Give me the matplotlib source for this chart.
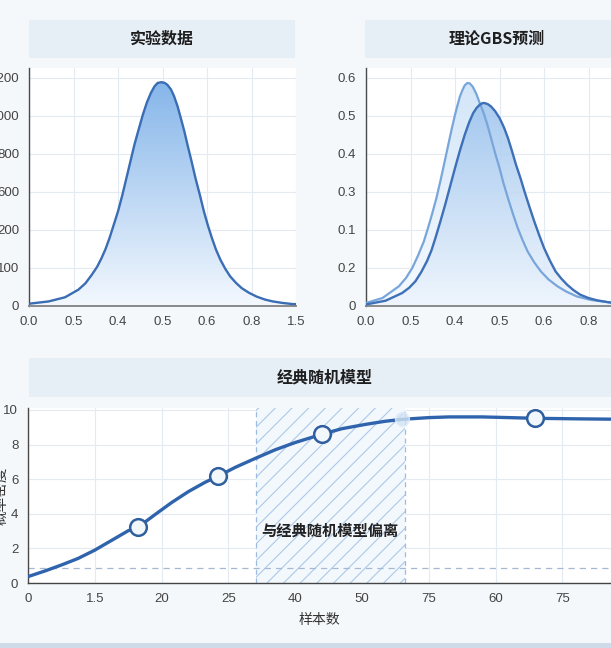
import matplotlib.pyplot as plt
import numpy as np
from matplotlib.patches import Polygon, Rectangle
from matplotlib.colors import LinearSegmentedColormap

plt.rcParams['font.family'] = ['Noto Sans CJK SC', 'DejaVu Sans']
plt.rcParams['hatch.linewidth'] = 0.8
plt.rcParams['hatch.color'] = '#adc8e9'

# ---- data (x in tick-slot units, y in tick-slot units) ----
exp_x = [0, 0.44, 0.81, 1.11, 1.27, 1.41, 1.53, 1.63, 1.72, 1.81, 1.9, 2.0, 2.1, 2.19, 2.28, 2.37, 2.47,
         2.56, 2.65, 2.74, 2.82, 2.89, 2.98, 3.05, 3.11, 3.19, 3.26, 3.34, 3.41, 3.49, 3.56, 3.65, 3.74,
         3.84, 3.93, 4.02, 4.11, 4.2, 4.3, 4.41, 4.52, 4.65, 4.78, 4.94, 5.11, 5.3, 5.48, 5.7, 5.93, 6.0]
exp_y = [0.06, 0.12, 0.23, 0.43, 0.6, 0.82, 1.03, 1.26, 1.5, 1.79, 2.12, 2.49, 2.93, 3.37, 3.81, 4.25, 4.67,
         5.04, 5.36, 5.61, 5.78, 5.87, 5.89, 5.87, 5.82, 5.7, 5.52, 5.25, 4.95, 4.6, 4.25, 3.82, 3.37,
         2.92, 2.49, 2.12, 1.79, 1.49, 1.22, 0.98, 0.78, 0.61, 0.47, 0.35, 0.25, 0.17, 0.12, 0.08, 0.05, 0.05]
exp_xticks = ['0.0', '0.5', '0.4', '0.5', '0.6', '0.8', '1.5']
exp_yticks = ['0', '100', '200', '600', '800', '1000', '1200']

gbs_light_x = [0, 0.37, 0.74, 0.9, 1.04, 1.17, 1.3, 1.39, 1.48, 1.58, 1.67, 1.76, 1.85, 1.93, 2.0, 2.06,
               2.11, 2.17, 2.22, 2.28, 2.33, 2.4, 2.48, 2.55, 2.63, 2.72, 2.81, 2.9, 3.0, 3.09, 3.19, 3.3,
               3.41, 3.52, 3.63, 3.78, 3.93, 4.1, 4.3, 4.5, 4.74, 5.05, 5.44, 5.51]
gbs_light_y = [0.08, 0.21, 0.52, 0.74, 1.0, 1.33, 1.7, 2.04, 2.4, 2.83, 3.28, 3.76, 4.25, 4.68, 5.03, 5.3,
               5.51, 5.69, 5.81, 5.87, 5.86, 5.77, 5.58, 5.36, 5.12, 4.8, 4.42, 4.03, 3.63, 3.23, 2.84, 2.43,
               2.05, 1.73, 1.44, 1.15, 0.91, 0.7, 0.52, 0.38, 0.25, 0.16, 0.1, 0.09]
gbs_dark_x = [0, 0.44, 0.81, 0.97, 1.11, 1.24, 1.37, 1.47, 1.56, 1.67, 1.78, 1.89, 2.0, 2.11, 2.22, 2.32,
              2.41, 2.49, 2.56, 2.62, 2.67, 2.74, 2.81, 2.9, 3.0, 3.1, 3.19, 3.28, 3.37, 3.47, 3.56, 3.67,
              3.78, 3.89, 4.0, 4.13, 4.26, 4.39, 4.52, 4.66, 4.81, 5.0, 5.19, 5.44, 5.51]
gbs_dark_y = [0.04, 0.14, 0.34, 0.48, 0.65, 0.89, 1.18, 1.46, 1.79, 2.22, 2.67, 3.15, 3.63, 4.09, 4.51, 4.84,
              5.08, 5.22, 5.3, 5.34, 5.34, 5.31, 5.25, 5.13, 4.95, 4.7, 4.42, 4.08, 3.72, 3.37, 3.02, 2.62,
              2.23, 1.87, 1.53, 1.2, 0.91, 0.72, 0.56, 0.42, 0.3, 0.21, 0.15, 0.1, 0.09]
gbs_xticks = ['0.0', '0.5', '0.4', '0.5', '0.6', '0.8']
gbs_yticks = ['0', '0.2', '0.1', '0.3', '0.4', '0.5', '0.6']

cl_x = [0, 0.25, 0.5, 0.75, 1.0, 1.25, 1.5, 1.65, 1.9, 2.15, 2.4, 2.65, 2.85, 3.1, 3.4, 3.7, 4.0, 4.25,
        4.4, 4.7, 5.07, 5.35, 5.6, 6.0, 6.3, 6.8, 7.2, 7.59, 8.2, 8.73]
cl_y = [0.37, 0.69, 1.04, 1.42, 1.9, 2.46, 3.02, 3.23, 3.95, 4.65, 5.28, 5.82, 6.18, 6.68, 7.2, 7.7, 8.12, 8.42,
        8.6, 8.92, 9.18, 9.35, 9.46, 9.56, 9.6, 9.6, 9.56, 9.52, 9.49, 9.47]
cl_mark_x = [1.65, 2.85, 4.4, 7.59]
cl_mark_y = [3.23, 6.18, 8.62, 9.52]
cl_ghost_x = [5.6]
cl_ghost_y = [9.46]
cl_xticks = ['0', '1.5', '20', '25', '40', '50', '75', '60', '75']
cl_yticks = [0, 2, 4, 6, 8, 10]
dev_start, dev_end = 3.41, 5.64
base_level = 0.88

W, H = 611, 648
fig = plt.figure(figsize=(W / 100, H / 100), dpi=100)
fig.patch.set_facecolor('#f5f8fb')
tick_font = 'Liberation Sans'


def px_axes(x0, x1, y0, y1):
    # pixel box -> figure fractions
    return fig.add_axes([x0 / W, 1 - y1 / H, (x1 - x0) / W, (y1 - y0) / H])


def title_box(x0, x1, y0, y1, text, cx):
    fig.patches.append(Rectangle((x0 / W, 1 - y1 / H), (x1 - x0) / W, (y1 - y0) / H,
                                 transform=fig.transFigure, facecolor='#e6eef6', edgecolor='none', zorder=0))
    fig.text(cx / W, 1 - (y0 + y1) / 2 / H, text, ha='center', va='center',
             fontsize=11.5, fontweight='bold', color='#1e1e1e')


def style(ax):
    ax.set_facecolor('#ffffff')
    for s in ['top', 'right']:
        ax.spines[s].set_visible(False)
    ax.spines['left'].set_color('#4a4a4a')
    ax.spines['bottom'].set_color('#8a8a8a')
    ax.spines['left'].set_linewidth(1.0)
    ax.spines['bottom'].set_linewidth(1.4)
    ax.tick_params(length=0, labelsize=9.5, colors='#444444', pad=7)
    ax.grid(True, color='#e4eaf1', linewidth=0.8)
    ax.set_axisbelow(True)


def fix_ticks(ax):
    for lab in ax.get_xticklabels() + ax.get_yticklabels():
        lab.set_fontfamily(tick_font)


def grad_fill(ax, x, y, top, bottom, alpha=1.0, z=1):
    verts = [(x[0], 0)] + list(zip(x, y)) + [(x[-1], 0)]
    patch = Polygon(verts, closed=True, facecolor='none', edgecolor='none')
    ax.add_patch(patch)
    cmap = LinearSegmentedColormap.from_list('g', [bottom, top])
    grad = np.linspace(0, 1, 256).reshape(-1, 1)
    im = ax.imshow(grad, extent=[x[0], x[-1], 0, max(y)], origin='lower', cmap=cmap,
                   aspect='auto', zorder=z, alpha=alpha)
    im.set_clip_path(patch)


# ---- top left: 实验数据 ----
title_box(29, 295, 20, 58, '实验数据', 162)
ax1 = px_axes(29, 296, 68, 306)
style(ax1)
grad_fill(ax1, exp_x, exp_y, '#86b6ea', '#f3f8fe')
ax1.plot(exp_x, exp_y, color='#3a6db4', lw=1.7, zorder=3)
ax1.set_xlim(0, 6)
ax1.set_ylim(0, 238 / 38)
ax1.set_xticks(range(len(exp_xticks)))
ax1.set_xticklabels(exp_xticks)
ax1.set_yticks(range(len(exp_yticks)))
ax1.set_yticklabels(exp_yticks)
fix_ticks(ax1)

# ---- top right: 理论GBS预测 ----
title_box(365, 611, 20, 58, '理论GBS预测', 497)
ax2 = px_axes(366, 611, 68, 306)
style(ax2)
grad_fill(ax2, gbs_light_x, gbs_light_y, '#d3e6f8', '#f6faff', z=1)
grad_fill(ax2, gbs_dark_x, gbs_dark_y, '#9cc3ee', '#eef5fd', alpha=0.85, z=2)
ax2.plot(gbs_light_x, gbs_light_y, color='#78a6da', lw=1.6, zorder=3)
ax2.plot(gbs_dark_x, gbs_dark_y, color='#3d70b6', lw=1.7, zorder=4)
ax2.set_xlim(0, 245 / 44.5)
ax2.set_ylim(0, 238 / 38)
ax2.set_xticks(range(len(gbs_xticks)))
ax2.set_xticklabels(gbs_xticks)
ax2.set_yticks(range(len(gbs_yticks)))
ax2.set_yticklabels(gbs_yticks)
fix_ticks(ax2)

# ---- bottom: 经典随机模型 ----
title_box(29, 611, 358, 397, '经典随机模型', 325)
ax3 = px_axes(28, 611, 408, 583)
style(ax3)
ax3.spines['bottom'].set_color('#444444')
ax3.spines['bottom'].set_linewidth(1.0)
ax3.axvspan(dev_start, dev_end, facecolor='#f3f8fd', edgecolor='#adc8e9', hatch='//', lw=0, zorder=1)
for xv in [dev_start, dev_end]:
    ax3.axvline(xv, color='#9dbbe0', lw=0.9, ls=(0, (4, 3)), zorder=2)
ax3.axhline(base_level, color='#a5b9d3', lw=0.9, ls=(0, (5, 4)), zorder=2)
ax3.plot(cl_x, cl_y, color='#2f64ad', lw=2.4, zorder=3)
ax3.plot(cl_ghost_x, cl_ghost_y, 'o', ms=10, mfc='#d3e4f5', mec='#e4eef9', alpha=0.8, zorder=3)
ax3.plot(cl_mark_x, cl_mark_y, 'o', ms=12, mfc='#f2f7fc', mec='#2f5f9e', mew=1.8, zorder=4)
ax3.text(4.52, 3.0, '与经典随机模型偏离', ha='center', va='center',
         fontsize=11, fontweight='bold', color='#222222', zorder=5)
ax3.set_xlim(0, 583 / 66.8)
ax3.set_ylim(0, 175 / 17.3)
ax3.set_xticks(range(len(cl_xticks)))
ax3.set_xticklabels(cl_xticks)
ax3.set_yticks(cl_yticks)
fix_ticks(ax3)
ax3.set_xlabel('样本数', fontsize=10, color='#333333', labelpad=6)
ax3.set_ylabel('概率密度', fontsize=10.5, color='#333333')
ax3.yaxis.set_label_coords(-0.033, 0.5)

# thin band at the bottom edge
fig.patches.append(Rectangle((0, 0), 1, 5 / H, transform=fig.transFigure,
                             facecolor='#cfdbe8', edgecolor='none'))

fig.savefig('out.png', dpi=100, facecolor=fig.get_facecolor())
